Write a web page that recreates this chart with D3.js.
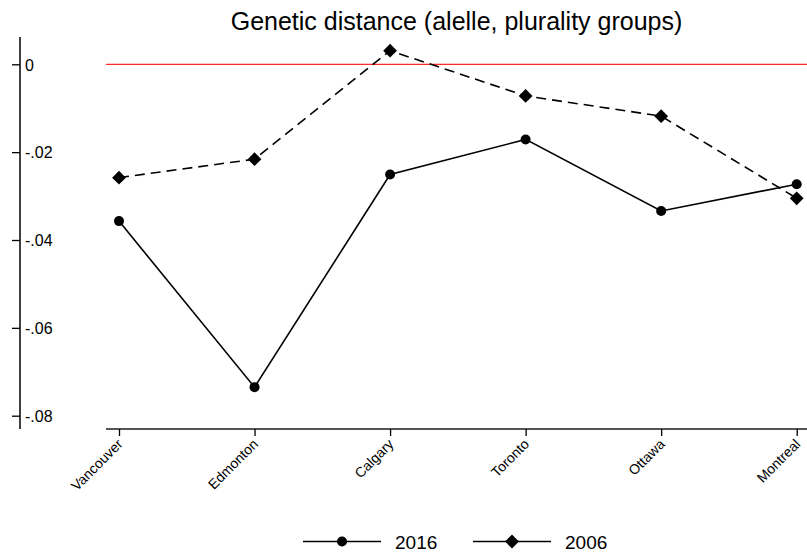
<!DOCTYPE html>
<html>
<head>
<meta charset="utf-8">
<script src="https://cdn.jsdelivr.net/npm/d3@7"></script>
<style>
  body { margin: 0; background: #fff; }
  text { font-family: "Liberation Sans", Arial, sans-serif; }
</style>
</head>
<body>
<svg id="chart"></svg>
<script>
var cities = ["Vancouver", "Edmonton", "Calgary", "Toronto", "Ottawa", "Montreal"];
var values2016 = [-0.0357, -0.0735, -0.0251, -0.0171, -0.0334, -0.0273];
var values2006 = [-0.0258, -0.0216, 0.0031, -0.0072, -0.0118, -0.0305];
var yTicks = [0, -0.02, -0.04, -0.06, -0.08];
var title = "Genetic distance (alelle, plurality groups)";

var width = 807, height = 552;
var svg = d3.select("#chart")
    .attr("width", width)
    .attr("height", height);

// plot region
var plotLeft = 106, plotRight = 807;
var xScale = d3.scalePoint()
    .domain(cities)
    .range([119, 796.7]);

var yScale = d3.scaleLinear()
    .domain([-0.08, 0])
    .range([415.7, 64.3]);

// stata style labels: 0, -.02, -.04 ...
var fmt = function(d){
    if (d === 0) return "0";
    return d3.format(".2f")(d).replace("\u2212", "-").replace("0.", ".");
};

// title
svg.append("text")
    .attr("x", (plotLeft + plotRight) / 2)
    .attr("y", 30)
    .attr("text-anchor", "middle")
    .attr("font-size", 25)
    .attr("fill", "#000")
    .text(title);

// y axis (offset to the left)
var yAxis = d3.axisLeft(yScale)
    .tickValues(yTicks)
    .tickSize(8)
    .tickFormat(fmt);
var yAxisG = svg.append("g")
    .attr("transform", "translate(20,0)")
    .call(yAxis);
yAxisG.select(".domain")
    .attr("d", "M0,37V429")
    .attr("stroke", "#000")
    .attr("stroke-width", 1.5);
yAxisG.selectAll(".tick line").attr("stroke", "#000").attr("stroke-width", 1.3);
yAxisG.selectAll(".tick text")
    .attr("x", 5)
    .attr("dy", "0.36em")
    .attr("text-anchor", "start")
    .attr("font-size", 16)
    .attr("font-family", "Liberation Sans, Arial, sans-serif")
    .attr("fill", "#000");

// x axis
var xAxis = d3.axisBottom(xScale).tickSize(7);
var xAxisG = svg.append("g")
    .attr("transform", "translate(0,429)")
    .call(xAxis);
xAxisG.select(".domain")
    .attr("d", "M" + plotLeft + ",0H" + plotRight)
    .attr("stroke", "#555")
    .attr("stroke-width", 2);
xAxisG.selectAll(".tick line").attr("stroke", "#000").attr("stroke-width", 1.3);
xAxisG.selectAll(".tick text")
    .attr("font-size", 14)
    .attr("font-family", "Liberation Sans, Arial, sans-serif")
    .attr("fill", "#000")
    .attr("text-anchor", "end")
    .attr("y", 0)
    .attr("dy", 0)
    .attr("transform", "translate(4,16) rotate(-45)");

// zero reference line
svg.append("line")
    .attr("x1", plotLeft)
    .attr("x2", plotRight)
    .attr("y1", yScale(0))
    .attr("y2", yScale(0))
    .attr("stroke", "#ff2a2a")
    .attr("stroke-width", 1.2);

var line = d3.line()
    .x(function(d, i){ return xScale(cities[i]); })
    .y(function(d){ return yScale(d); });

// 2006 dashed with diamonds
svg.append("path")
    .attr("d", line(values2006))
    .attr("fill", "none")
    .attr("stroke", "#000")
    .attr("stroke-width", 1.6)
    .attr("stroke-dasharray", "10,6");

// 2016 solid with circles
svg.append("path")
    .attr("d", line(values2016))
    .attr("fill", "none")
    .attr("stroke", "#000")
    .attr("stroke-width", 1.6);

var diamond = d3.symbol().type(d3.symbolSquare).size(95);

svg.selectAll(".d2006").data(values2006)
    .enter().append("path")
    .attr("class", "d2006")
    .attr("d", diamond)
    .attr("transform", function(d, i){ return "translate(" + xScale(cities[i]) + "," + yScale(d) + ") rotate(45)"; })
    .attr("fill", "#000");

svg.selectAll(".c2016").data(values2016)
    .enter().append("circle")
    .attr("class", "c2016")
    .attr("cx", function(d, i){ return xScale(cities[i]); })
    .attr("cy", function(d){ return yScale(d); })
    .attr("r", 5)
    .attr("fill", "#000");

// legend
var legendY = 541.5;
var legend = [
  { label: "2016", x: 303, marker: "circle" },
  { label: "2006", x: 473, marker: "diamond" }
];
var lg = svg.append("g");
legend.forEach(function(l){
  lg.append("line")
    .attr("x1", l.x).attr("x2", l.x + 78)
    .attr("y1", legendY).attr("y2", legendY)
    .attr("stroke", "#000").attr("stroke-width", 1.6);
  if (l.marker === "circle") {
    lg.append("circle").attr("cx", l.x + 39).attr("cy", legendY).attr("r", 5).attr("fill", "#000");
  } else {
    lg.append("path").attr("d", diamond)
      .attr("transform", "translate(" + (l.x + 39) + "," + legendY + ") rotate(45)")
      .attr("fill", "#000");
  }
  lg.append("text")
    .attr("x", l.x + 92)
    .attr("y", 549)
    .attr("font-size", 19)
    .attr("fill", "#000")
    .text(l.label);
});
</script>
</body>
</html>
